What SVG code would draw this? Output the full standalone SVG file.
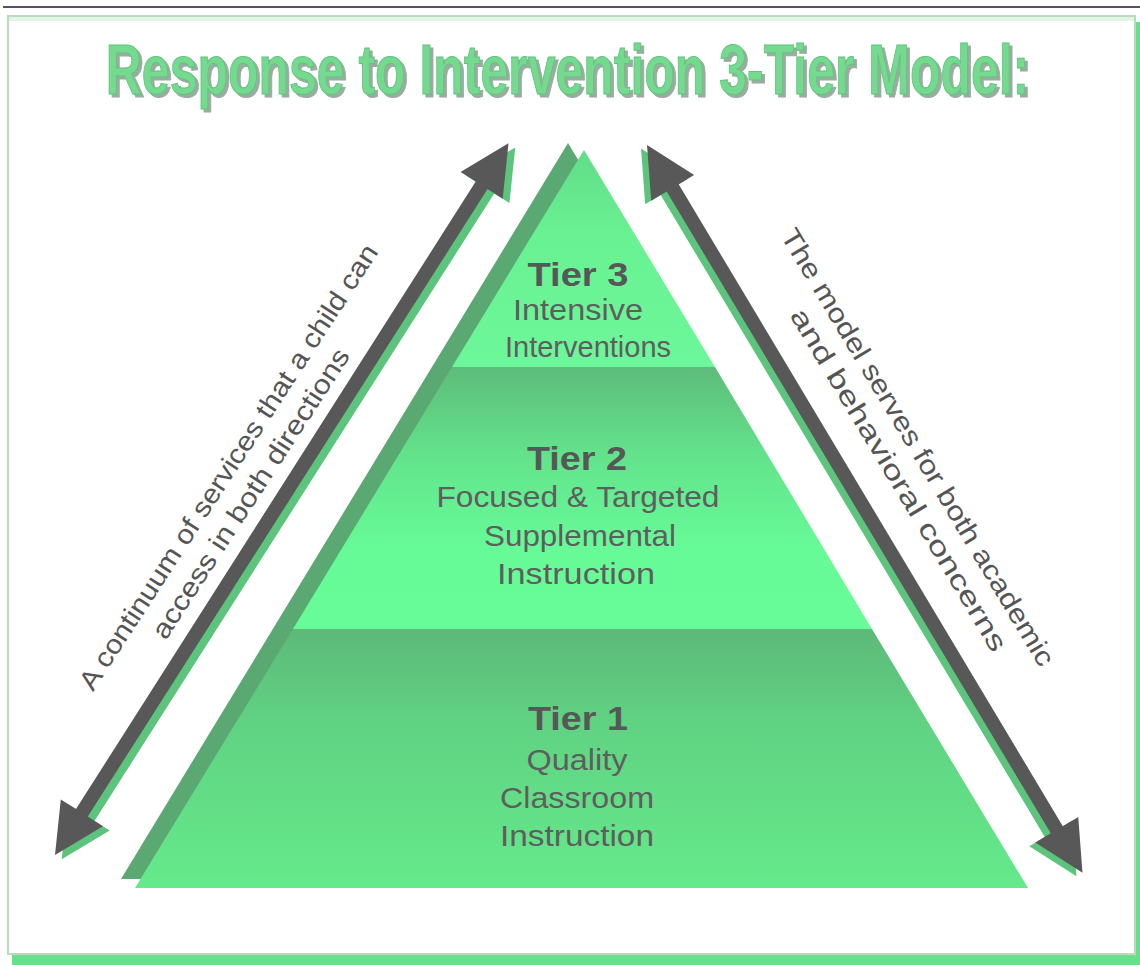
<svg xmlns="http://www.w3.org/2000/svg" width="1140" height="965" viewBox="0 0 1140 965">
<defs>
<style>
.title{font-family:"Liberation Sans",Arial,sans-serif;font-weight:bold;font-size:70px;text-anchor:middle}
.tt{font-family:"Liberation Sans",Arial,sans-serif;font-weight:bold;font-size:34px;fill:#575757;text-anchor:middle}
.td{font-family:"Liberation Sans",Arial,sans-serif;font-size:29px;fill:#5e5e5e;text-anchor:middle}
.side{font-family:"Liberation Sans",Arial,sans-serif;font-size:27px;fill:#555;text-anchor:middle}
.arrow{fill:#585858}
.ashadow{fill:#5cc47c}
</style>
<filter id="tshadow" filterUnits="userSpaceOnUse" x="-1000" y="-80" width="2000" height="120">
<feOffset in="SourceAlpha" dx="4" dy="3" result="o"/>
<feFlood flood-color="#9aab9f"/>
<feComposite in2="o" operator="in" result="s"/>
<feMerge><feMergeNode in="s"/><feMergeNode in="SourceGraphic"/></feMerge>
</filter>
<linearGradient id="g3" gradientUnits="userSpaceOnUse" x1="0" y1="150" x2="0" y2="367">
<stop offset="0" stop-color="#62dc88"/><stop offset="0.4" stop-color="#69f293"/><stop offset="1" stop-color="#6cf79a"/>
</linearGradient>
<linearGradient id="g2" gradientUnits="userSpaceOnUse" x1="0" y1="367" x2="0" y2="629">
<stop offset="0" stop-color="#5ebc7a"/><stop offset="0.35" stop-color="#63e48c"/><stop offset="0.7" stop-color="#67fb98"/><stop offset="1" stop-color="#68fc99"/>
</linearGradient>
<linearGradient id="g1" gradientUnits="userSpaceOnUse" x1="0" y1="629" x2="0" y2="888">
<stop offset="0" stop-color="#5db979"/><stop offset="0.35" stop-color="#60d282"/><stop offset="1" stop-color="#65ea8b"/>
</linearGradient>
</defs>
<rect width="1140" height="965" fill="#ffffff"/>
<g id="frame">
<line x1="3" y1="7" x2="1140" y2="7" stroke="#5a4d66" stroke-width="2"/>
<rect x="12" y="22" width="1128" height="943" fill="#66e08a"/>
<rect x="8" y="16" width="1127" height="938" fill="#ffffff" stroke="#b5dcbd" stroke-width="2"/>
<rect x="9" y="17" width="1125" height="4" fill="#e6f4e8"/>
</g>
<g id="title" transform="translate(567.5,94) scale(0.714,1)">
<text class="title" x="0" y="0" fill="#74da90" stroke="#5ec47c" stroke-width="1" filter="url(#tshadow)">Response to Intervention 3-Tier Model:</text>
</g>
<g id="pyramid-shadow">
<polygon points="568,143 121,879 1010,879" fill="#5aa973"/>
</g>
<g id="tier3">
<polygon points="584,150 452,367 715,367" fill="url(#g3)"/>
<text class="tt" x="578" y="286" textLength="101" lengthAdjust="spacingAndGlyphs">Tier 3</text>
<text class="td" x="578" y="320" textLength="130" lengthAdjust="spacingAndGlyphs">Intensive</text>
<text class="td" x="588" y="357">Interventions</text>
</g>
<g id="tier2">
<polygon points="452,367 715,367 872,629 293,629" fill="url(#g2)"/>
<text class="tt" x="577" y="470" textLength="100" lengthAdjust="spacingAndGlyphs">Tier 2</text>
<text class="td" x="578" y="507" textLength="283" lengthAdjust="spacingAndGlyphs">Focused &amp; Targeted</text>
<text class="td" x="580" y="546" textLength="192" lengthAdjust="spacingAndGlyphs">Supplemental</text>
<text class="td" x="576" y="584" textLength="158" lengthAdjust="spacingAndGlyphs">Instruction</text>
</g>
<g id="tier1">
<polygon points="293,629 872,629 1028,888 135,888" fill="url(#g1)"/>
<text class="tt" x="578" y="730" textLength="100" lengthAdjust="spacingAndGlyphs">Tier 1</text>
<text class="td" x="577" y="770" textLength="101" lengthAdjust="spacingAndGlyphs">Quality</text>
<text class="td" x="577" y="808" textLength="154" lengthAdjust="spacingAndGlyphs">Classroom</text>
<text class="td" x="577" y="846" textLength="154" lengthAdjust="spacingAndGlyphs">Instruction</text>
</g>
<g id="connectors">
<g id="left-arrow" transform="translate(55,855) rotate(-57.5)">
<polygon class="ashadow" transform="translate(0,8)" points="0,0 50,-25 50,-7 794,-7 794,-25 844,0 794,25 794,7 50,7 50,25"/>
<polygon class="arrow" points="0,0 50,-25 50,-7 794,-7 794,-25 844,0 794,25 794,7 50,7 50,25"/>
</g>
<g id="right-arrow" transform="translate(647,145) rotate(59.1)">
<polygon class="ashadow" transform="translate(0,7)" points="0,0 50,-25 50,-7 798,-7 798,-25 848,0 798,25 798,7 50,7 50,25"/>
<polygon class="arrow" points="0,0 50,-25 50,-7 798,-7 798,-25 848,0 798,25 798,7 50,7 50,25"/>
</g>
</g>
<g id="left-label" transform="translate(236,472) rotate(-57)">
<text class="side" x="0" y="0" textLength="525" lengthAdjust="spacingAndGlyphs">A continuum of services that a child can</text>
<text class="side" x="-10" y="33" textLength="340" lengthAdjust="spacingAndGlyphs">access in both directions</text>
</g>
<g id="right-label" transform="translate(910,452) rotate(59)">
<text class="side" x="0" y="0" textLength="505" lengthAdjust="spacingAndGlyphs">The model serves for both academic</text>
<text class="side" x="18" y="33" textLength="395" lengthAdjust="spacingAndGlyphs">and behavioral concerns</text>
</g>
</svg>
